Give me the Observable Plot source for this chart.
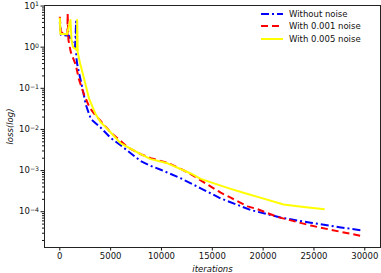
<!DOCTYPE html>
<html>
<head>
<meta charset="utf-8">
<script src="https://cdn.jsdelivr.net/npm/d3@7"></script>
<script src="https://cdn.jsdelivr.net/npm/@observablehq/plot@0.6"></script>
<style>
  html, body { margin: 0; padding: 0; background: white; }
  #wrap { position: relative; width: 381px; height: 273px; font-family: "DejaVu Sans", sans-serif; }
  #wrap svg g[aria-label="x-axis label"] text,
  #wrap svg g[aria-label="y-axis label"] text { font-style: italic; }
  #legend { position: absolute; left: 261px; top: 8px; font-size: 8.5px; color: #111; }
  #legend .row { display: flex; align-items: center; height: 12.3px; }
  #legend svg { width: 22px; height: 10px; margin-right: 6px; }
</style>
</head>
<body>
<div id="wrap"></div>
<script>
// ---- data ----
const seriesNames = ["Without noise", "With 0.001 noise", "With 0.005 noise"];
const seriesColors = ["#0000ff", "#ff0000", "#ffff00"];

const blueIter = [0, 100, 900, 1500, 1610, 1620, 1700, 1870, 2230, 2560, 3050, 4030, 5010, 6290, 7960, 8945, 9930, 11900, 13860, 15830, 18780, 21720, 24670, 27500, 29800];
const blueLoss = [4.0, 2.0, 1.9, 1.0, 4.2, 0.6, 0.4, 0.25, 0.1, 0.04, 0.018, 0.011, 0.0062, 0.0036, 0.0017, 0.0013, 0.00105, 0.00065, 0.00037, 0.00021, 0.00011, 0.000072, 0.000054, 0.000042, 0.000035];

const redIter = [0, 100, 600, 750, 770, 850, 1080, 1570, 1870, 2300, 2900, 3500, 4030, 5000, 6680, 7960, 8945, 10600, 11900, 12880, 13860, 15830, 16810, 18480, 19460, 21400, 24700, 27500, 29600];
const redLoss = [5.5, 2.3, 2.1, 2.0, 6.5, 1.5, 0.76, 0.37, 0.17, 0.08, 0.035, 0.022, 0.016, 0.0085, 0.0037, 0.0025, 0.002, 0.00155, 0.0011, 0.00082, 0.00058, 0.00029, 0.00022, 0.000135, 0.000115, 0.000075, 0.000046, 0.000033, 0.000026];

const yellowIter = [0, 60, 400, 700, 1050, 1150, 1300, 1680, 1710, 1760, 2000, 2390, 2880, 3540, 4030, 4820, 6000, 7960, 8945, 10600, 12880, 13860, 15830, 16810, 18480, 19460, 22020, 24000, 26050];
const yellowLoss = [5.2, 2.1, 2.1, 2.05, 4.6, 1.5, 1.0, 0.85, 4.6, 0.75, 0.4, 0.17, 0.056, 0.023, 0.015, 0.0095, 0.0046, 0.0025, 0.0019, 0.0015, 0.00085, 0.00063, 0.00043, 0.00036, 0.00027, 0.00023, 0.00015, 0.00013, 0.000115];

const xTicks = [0, 5000, 10000, 15000, 20000, 25000, 30000];
const yTicks = [1e-4, 1e-3, 1e-2, 1e-1, 1, 10];

// ---- build table ----
const iters = [blueIter, redIter, yellowIter];
const losses = [blueLoss, redLoss, yellowLoss];
const data = [];
seriesNames.forEach((name, i) => {
  iters[i].forEach((it, j) => data.push({series: name, iter: it, loss: losses[i][j]}));
});

const fmtPow = d => "10^" + String(Math.round(Math.log10(d))).replace("-", "\u2212");

const minorTicks = [];
for (let e = -5; e <= 0; e++) for (let m = 2; m <= 9; m++) {
  const v = m * Math.pow(10, e);
  if (v > 1.35e-5 && v < 10.3) minorTicks.push(v);
}

const dashes = ["8,3,2,3", "7,4", null];

const chart = Plot.plot({
  width: 381,
  height: 273,
  marginLeft: 44,
  marginRight: 1,
  marginTop: 5,
  marginBottom: 26,
  style: {fontFamily: "DejaVu Sans, sans-serif", fontSize: "8.5px", background: "white", color: "#111"},
  x: {domain: [-1505, 31545]},
  y: {type: "log", domain: [1.35e-5, 10.3]},
  marks: [
    Plot.axisX({ticks: xTicks, tickFormat: d => String(d), tickSize: 3.5, tickPadding: 2, label: "iterations", labelAnchor: "center", labelOffset: 24, labelArrow: false}),
    Plot.axisY({ticks: yTicks, tickFormat: fmtPow, tickSize: 3.5, tickPadding: 2, label: "loss(log)", labelAnchor: "center", labelOffset: 38, labelArrow: false}),
    Plot.axisY({ticks: minorTicks, tickFormat: () => "", tickSize: 2, label: null}),
    ...seriesNames.map((name, i) => Plot.line(data.filter(d => d.series === name), {
      x: "iter", y: "loss", stroke: seriesColors[i], strokeWidth: 2,
      strokeDasharray: dashes[i], strokeLinejoin: "round", strokeLinecap: "butt"
    })),
    Plot.frame({stroke: "#222", strokeWidth: 1})
  ]
});
document.getElementById("wrap").appendChild(chart);

// render "10^k" labels as base + raised exponent
d3.select(chart).selectAll("text").each(function() {
  const t = this.textContent;
  if (/^10\^/.test(t)) {
    const exp = t.slice(3);
    const sel = d3.select(this);
    sel.text("10");
    sel.append("tspan").attr("dy", "-0.38em").attr("font-size", "6.2px").text(exp);
  }
});

// legend
const legend = document.createElement("div");
legend.id = "legend";
seriesNames.forEach((name, i) => {
  const row = document.createElement("div");
  row.className = "row";
  row.innerHTML = `<svg viewBox="0 0 22 10"><line x1="0" y1="5" x2="22" y2="5" stroke="${seriesColors[i]}" stroke-width="2" ${dashes[i] ? `stroke-dasharray="${dashes[i]}"` : ""}/></svg><span>${name}</span>`;
  legend.appendChild(row);
});
document.getElementById("wrap").appendChild(legend);
</script>
</body>
</html>
